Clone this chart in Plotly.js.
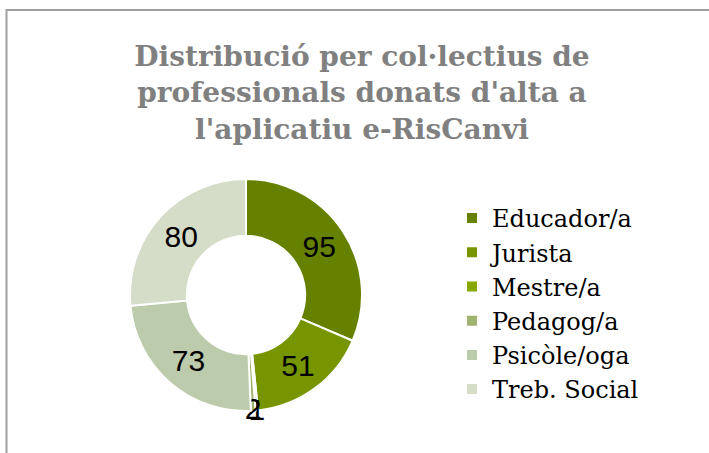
<!DOCTYPE html>
<html>
<head>
<meta charset="utf-8">
<script src="https://cdn.plot.ly/plotly-3.0.1.min.js"></script>
<style>html,body{margin:0;padding:0;background:#fff;}#chart{width:709px;height:453px;}</style>
</head>
<body>
<div id="chart"></div>
<script>
const categories = ["Educador/a", "Jurista", "Mestre/a", "Pedagog/a", "Psicòle/oga", "Treb. Social"];
const values = [95, 51, 1, 2, 73, 80];
const colors = ["#668000", "#779500", "#86a800", "#9fb46e", "#bccbab", "#d5dcc8"];
const titleText = "Distribució per col·lectius de<br>professionals donats d'alta a<br>l'aplicatiu e-RisCanvi";

const W = 709, H = 453;
const cx = 246, cy = 295, R = 116;

const trace = {
  type: "pie",
  labels: categories,
  values: values,
  sort: false,
  direction: "clockwise",
  rotation: 0,
  hole: 0.51,
  marker: {colors: colors, line: {color: "#ffffff", width: 2}},
  textinfo: "value",
  textposition: "inside",
  insidetextorientation: "horizontal",
  textfont: {family: "Liberation Sans, Arial, sans-serif", size: 30, color: "#000000"},
  domain: {x: [(cx - R) / W, (cx + R) / W], y: [(H - cy - R) / H, (H - cy + R) / H]},
  hoverinfo: "label+value"
};

const layout = {
  width: W, height: H,
  margin: {l: 0, r: 0, t: 0, b: 0},
  paper_bgcolor: "#ffffff",
  showlegend: true,
  uniformtext: {mode: "show", minsize: 30},
  title: {
    text: titleText,
    font: {family: "DejaVu Serif, serif", size: 28, color: "#808080", weight: "bold"},
    x: 362 / W, xanchor: "center",
    y: 1 - 66 / H, yanchor: "top"
  },
  legend: {
    x: 452 / W, xanchor: "left",
    y: 1 - 196 / H, yanchor: "top",
    font: {family: "DejaVu Serif, serif", size: 24, color: "#000000"},
    itemwidth: 30,
    bgcolor: "rgba(0,0,0,0)"
  },
  shapes: [{
    type: "rect", xref: "paper", yref: "paper",
    x0: 6.5 / W, x1: 1.2, y0: -0.2, y1: 1 - 10 / H,
    line: {color: "#a0a0a0", width: 2}, fillcolor: "rgba(0,0,0,0)", layer: "below"
  }]
};

Plotly.newPlot("chart", [trace], layout, {displayModeBar: false, staticPlot: true});
</script>
</body>
</html>
